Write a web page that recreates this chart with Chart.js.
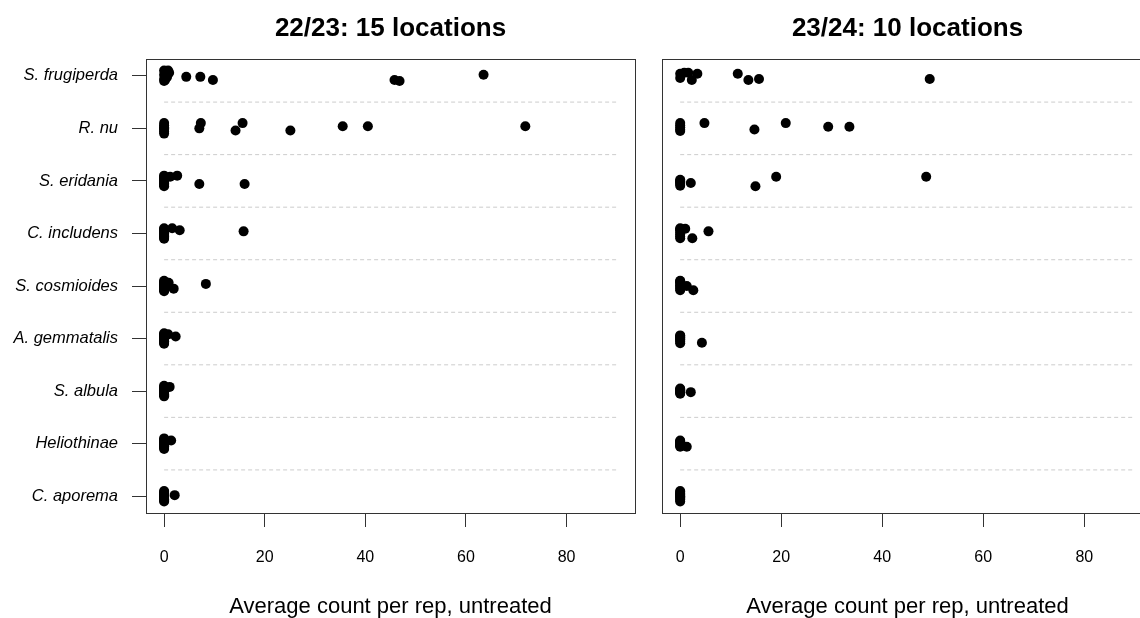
<!DOCTYPE html>
<html>
<head>
<meta charset="utf-8">
<script src="https://cdn.jsdelivr.net/npm/chart.js@4.4.1/dist/chart.umd.min.js"></script>
<style>
  html, body { margin:0; padding:0; background:#fff; overflow:hidden; width:1140px; height:618px; }
  #left { position:absolute; left:0; top:0; }
  #rightWrap { position:absolute; left:640px; top:0; width:500px; height:618px; overflow:hidden; }
</style>
</head>
<body>
<canvas id="left" width="640" height="618"></canvas>
<div id="rightWrap"><canvas id="right" width="520" height="618"></canvas></div>
<script>
// ---- data ----
const species = ['S. frugiperda','R. nu','S. eridania','C. includens','S. cosmioides','A. gemmatalis','S. albula','Heliothinae','C. aporema'];
const panelTitles = ['22/23: 15 locations', '23/24: 10 locations'];
const xTitle = 'Average count per rep, untreated';
const xTicks = [0, 20, 40, 60, 80];
const xLimits = [0, 90];
const separators = [1.5, 2.5, 3.5, 4.5, 5.5, 6.5, 7.5, 8.5];

// 22/23 season: values per species (15 locations), vertical jitter (in rows)
const counts2223 = [
  [0,0,0,0,0.3,0.6,1.0,0.2,0.8,4.4,7.2,9.7,45.8,46.8,63.5],
  [0,0,0,0,0,0,0,7.0,7.3,14.2,15.6,25.1,35.5,40.5,71.8],
  [0,0,0,0,0,0,0,0,0,0,0,1.2,2.6,7.0,16.0],
  [0,0,0,0,0,0,0,0,0,0,0,0,1.6,3.1,15.8],
  [0,0,0,0,0,0,0,0,0,0,0,0,0.9,1.9,8.3],
  [0,0,0,0,0,0,0,0,0,0,0,0,0,0.8,2.3],
  [0,0,0,0,0,0,0,0,0,0,0,0,0,0,1.1],
  [0,0,0,0,0,0,0,0,0,0,0,0,0,0,1.4],
  [0,0,0,0,0,0,0,0,0,0,0,0,0,0,2.1]
];
const jitter2223 = [
  [0.10,0.02,-0.06,-0.10,0.08,-0.02,0.06,-0.08,0.10,-0.02,-0.02,-0.08,-0.08,-0.10,0.02],
  [0.10,0.06,0.02,-0.02,-0.06,-0.10,0,0,0.10,-0.04,0.10,-0.04,0.04,0.04,0.04],
  [0.10,0.08,0.05,0.02,0,-0.02,-0.05,-0.08,-0.10,0.06,-0.06,0.08,0.10,-0.06,-0.06],
  [0.10,0.08,0.06,0.03,0,-0.03,-0.06,-0.08,-0.10,0.05,-0.05,0.01,0.10,0.06,0.04],
  [0.10,0.08,0.06,0.03,0,-0.03,-0.06,-0.08,-0.10,0.05,-0.05,0.01,0.06,-0.05,0.04],
  [0.10,0.08,0.06,0.03,0,-0.03,-0.06,-0.08,-0.10,0.05,-0.05,0.01,-0.01,0.08,0.04],
  [0.10,0.08,0.06,0.03,0,-0.03,-0.06,-0.08,-0.10,0.05,-0.05,0.01,-0.01,0.04,0.08],
  [0.10,0.08,0.06,0.03,0,-0.03,-0.06,-0.08,-0.10,0.05,-0.05,0.01,-0.01,0.04,0.06],
  [0.10,0.08,0.06,0.03,0,-0.03,-0.06,-0.08,-0.10,0.05,-0.05,0.01,-0.01,0.04,0.02]
];

// 23/24 season: values per species (10 locations), vertical jitter (in rows)
const counts2324 = [
  [0,0,0.8,1.6,2.3,3.4,11.4,13.5,15.6,49.4],
  [0,0,0,0,0,4.8,14.7,20.9,29.3,33.5],
  [0,0,0,0,0,0,2.1,14.9,19.0,48.7],
  [0,0,0,0,0,0,0,1.0,2.4,5.6],
  [0,0,0,0,0,0,0,0,1.3,2.6],
  [0,0,0,0,0,0,0,0,0,4.3],
  [0,0,0,0,0,0,0,0,0,2.1],
  [0,0,0,0,0,0,0,0,0,1.3],
  [0,0,0,0,0,0,0,0,0,0]
];
const jitter2324 = [
  [0.04,-0.04,0.06,0.06,-0.08,0.04,0.04,-0.08,-0.06,-0.06],
  [0.10,0.06,0.02,-0.02,-0.05,0.10,-0.02,0.10,0.03,0.03],
  [0.02,0,-0.03,-0.06,-0.09,-0.01,-0.04,-0.10,0.08,0.08],
  [0.10,0.06,0.02,-0.02,-0.06,-0.09,0.08,0.09,-0.09,0.04],
  [0.10,0.07,0.04,0.01,-0.02,-0.05,-0.08,0.09,0,-0.08],
  [0.06,0.03,0,-0.03,-0.06,-0.09,0.05,-0.02,0.02,-0.08],
  [0.05,0.03,0.01,-0.01,-0.03,-0.05,0.02,-0.02,0,-0.02],
  [0.06,0.04,0.02,0,-0.02,-0.04,-0.06,0.03,-0.03,-0.06],
  [0.10,0.08,0.05,0.03,0,-0.02,-0.05,-0.07,-0.10,0.01]
];

// ---- chart construction ----
const FONT = '"Liberation Sans", Arial, Helvetica, sans-serif';
Chart.defaults.font.family = FONT;
Chart.defaults.color = '#000';

const xPad = (xLimits[1] - xLimits[0]) * 0.04;
const yPad = (species.length - 1) * 0.04;

const decor = {
  id: 'decor',
  afterDraw(chart, args, opts) {
    const { ctx, chartArea: a } = chart;
    ctx.save();
    ctx.strokeStyle = '#333';
    ctx.lineWidth = 1;
    ctx.strokeRect(Math.round(a.left) + 0.5, Math.round(a.top) + 0.5,
                   Math.round(a.right - a.left), Math.round(a.bottom - a.top));
    ctx.fillStyle = '#000';
    ctx.textAlign = 'center';
    ctx.textBaseline = 'alphabetic';
    ctx.font = 'bold 26px ' + FONT;
    ctx.fillText(opts.title, (a.left + a.right) / 2, 36);
    ctx.font = '22px ' + FONT;
    ctx.fillText(xTitle, (a.left + a.right) / 2, 613);
    ctx.restore();
  }
};

function buildPoints(counts, jitter) {
  const pts = [];
  counts.forEach((row, i) => {
    row.forEach((v, j) => pts.push({ x: v, y: (species.length - i) + jitter[i][j] }));
  });
  return pts;
}

function makeChart(canvasId, counts, jitter, title, showY, padding) {
  const datasets = [{
    data: buildPoints(counts, jitter),
    pointRadius: 5,
    pointBackgroundColor: '#000',
    pointBorderWidth: 0,
    showLine: false
  }].concat(separators.map(y => ({
    data: [{ x: xLimits[0], y }, { x: xLimits[1], y }],
    showLine: true,
    borderColor: '#cccccc',
    borderWidth: 1,
    borderDash: [4, 3],
    pointRadius: 0,
    fill: false
  })));

  return new Chart(document.getElementById(canvasId), {
    type: 'scatter',
    data: { datasets },
    plugins: [decor],
    options: {
      responsive: false,
      animation: false,
      events: [],
      layout: { padding },
      plugins: { legend: { display: false }, tooltip: { enabled: false }, decor: { title } },
      scales: {
        x: {
          type: 'linear',
          min: xLimits[0] - xPad,
          max: xLimits[1] + xPad,
          afterBuildTicks: s => { s.ticks = xTicks.map(v => ({ value: v })); },
          afterFit: s => { s.height = 105; },
          grid: { drawOnChartArea: false, drawTicks: true, tickLength: 14, color: '#333' },
          border: { display: false },
          ticks: { padding: 21, color: '#000', autoSkip: false, maxRotation: 0, font: { size: 16 } }
        },
        y: {
          type: 'linear',
          display: showY,
          min: 1 - yPad,
          max: species.length + yPad,
          afterBuildTicks: s => { s.ticks = species.map((_, i) => ({ value: species.length - i })); },
          afterFit: s => { s.width = showY ? 146 : 0; },
          grid: { drawOnChartArea: false, drawTicks: true, tickLength: 14, color: '#333' },
          border: { display: false },
          ticks: {
            padding: 14, color: '#000', autoSkip: false,
            font: { size: 16.5, style: 'italic' },
            callback: v => species[species.length - v]
          }
        }
      }
    }
  });
}

makeChart('left', counts2223, jitter2223, panelTitles[0], true, { top: 59, right: 3, left: 0, bottom: 0 });
makeChart('right', counts2324, jitter2324, panelTitles[1], false, { top: 59, right: 7, left: 22, bottom: 0 });
</script>
</body>
</html>
